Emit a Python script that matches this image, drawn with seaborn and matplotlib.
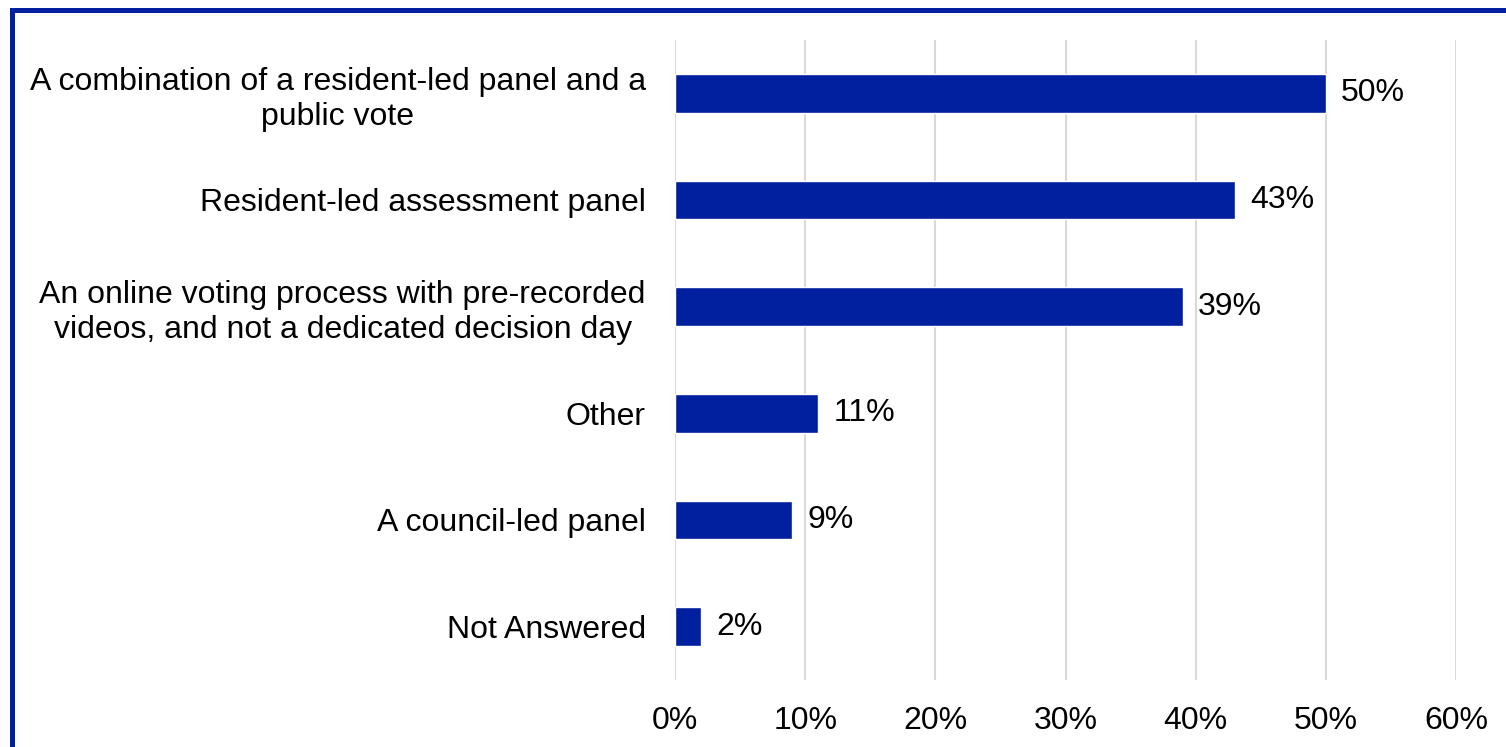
import matplotlib
matplotlib.use("Agg")
import matplotlib.pyplot as plt
from matplotlib.patches import Rectangle
import seaborn as sns
import pandas as pd

categories = [
    "A combination of a resident-led panel and a\npublic vote",
    "Resident-led assessment panel",
    "An online voting process with pre-recorded\nvideos, and not a dedicated decision day",
    "Other",
    "A council-led panel",
    "Not Answered",
]
values = [50, 43, 39, 11, 9, 2]
x_ticks = [0, 10, 20, 30, 40, 50, 60]
x_tick_labels = [f"{t}%" for t in x_ticks]

bar_color = "#00209F"
frame_color = "#0020A0"
grid_color = "#D9D9D9"

df = pd.DataFrame({"option": categories, "share": values})

sns.set_theme(style="white")
plt.rcParams["font.family"] = ["Liberation Sans", "DejaVu Sans"]

W, H = 1506, 747
fig = plt.figure(figsize=(W / 100, H / 100), dpi=100)
ax = fig.add_axes([675 / W, 1 - 680 / H, (1456 - 675) / W, 640 / H])

sns.barplot(data=df, x="share", y="option", color=bar_color,
            width=0.36, saturation=1, ax=ax, zorder=3)

ax.set_xlim(0, 60)
ax.set_ylim(5.5, -0.5)
ax.set_xticks(x_ticks)
ax.set_xticklabels(x_tick_labels)
ax.set_xlabel("")
ax.set_ylabel("")

ax.grid(axis="x", color=grid_color, linewidth=1.5, zorder=0)
ax.grid(axis="y", visible=False)
for s in ax.spines.values():
    s.set_visible(False)

fs = 23
ax.tick_params(axis="both", length=0, labelsize=fs, colors="black")
ax.tick_params(axis="y", pad=21)
ax.tick_params(axis="x", pad=19)
for lbl in ax.get_yticklabels():
    lbl.set_multialignment("center")
    lbl.set_linespacing(1.22)

ax.bar_label(ax.containers[0], labels=[f"{v}%" for v in values],
             padding=11, fontsize=fs, color="black")

# blue frame around the chart area
fig.patches.append(Rectangle((11.5 / W, -0.1), 1.2, (1 - 9.5 / H) + 0.1,
                             transform=fig.transFigure, fill=False,
                             edgecolor=frame_color, linewidth=3.6,
                             clip_on=False))

fig.savefig("out.png", dpi=100, facecolor="white")
